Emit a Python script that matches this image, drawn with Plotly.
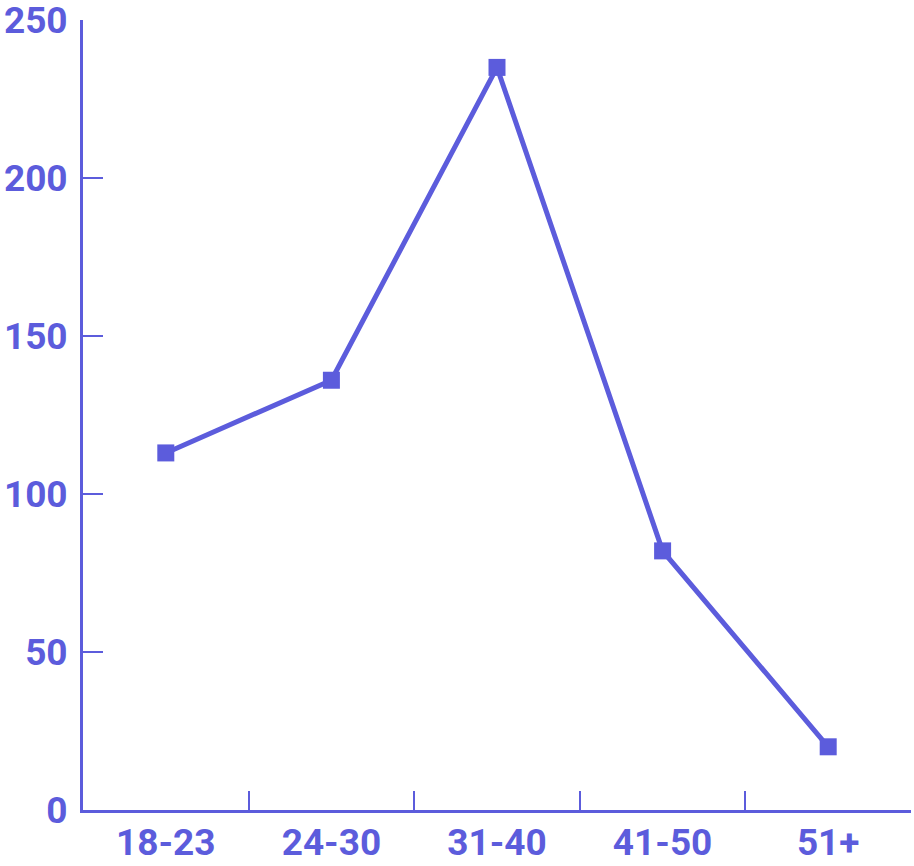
import plotly.graph_objects as go

categories = ["18-23", "24-30", "31-40", "41-50", "51+"]
values = [113, 136, 235, 82, 20]
y_ticks = [0, 50, 100, 150, 200, 250]

color = "#5c5cdc"

fig = go.Figure(go.Scatter(
    x=categories, y=values, mode="lines+markers",
    line=dict(color=color, width=5),
    marker=dict(symbol="square", size=17, color=color),
    cliponaxis=False,
))

fig.update_layout(
    width=914, height=866,
    margin=dict(l=83, r=3, t=20, b=56),
    plot_bgcolor="white", paper_bgcolor="white",
    showlegend=False,
    font=dict(family="Roboto", size=37, color=color, weight="bold"),
)
fig.update_xaxes(
    type="category", range=[-0.5, 4.5], automargin=False,
    showline=True, linecolor=color, linewidth=3,
    ticks="inside", ticklen=19, tickwidth=2, tickcolor=color,
    tickson="boundaries", showgrid=False, zeroline=False,
    ticklabelstandoff=-2, ticklabeloverflow="allow",
)
fig.update_yaxes(
    range=[0, 250], tickvals=y_ticks, automargin=False,
    showline=True, linecolor=color, linewidth=3,
    ticks="inside", ticklen=20, tickwidth=2, tickcolor=color,
    showgrid=False, zeroline=False,
    ticklabelstandoff=5, ticklabeloverflow="allow",
)

fig.write_html("out.html", config={"displayModeBar": False},
               post_script="document.body.style.margin='0';document.body.style.padding='0';")
